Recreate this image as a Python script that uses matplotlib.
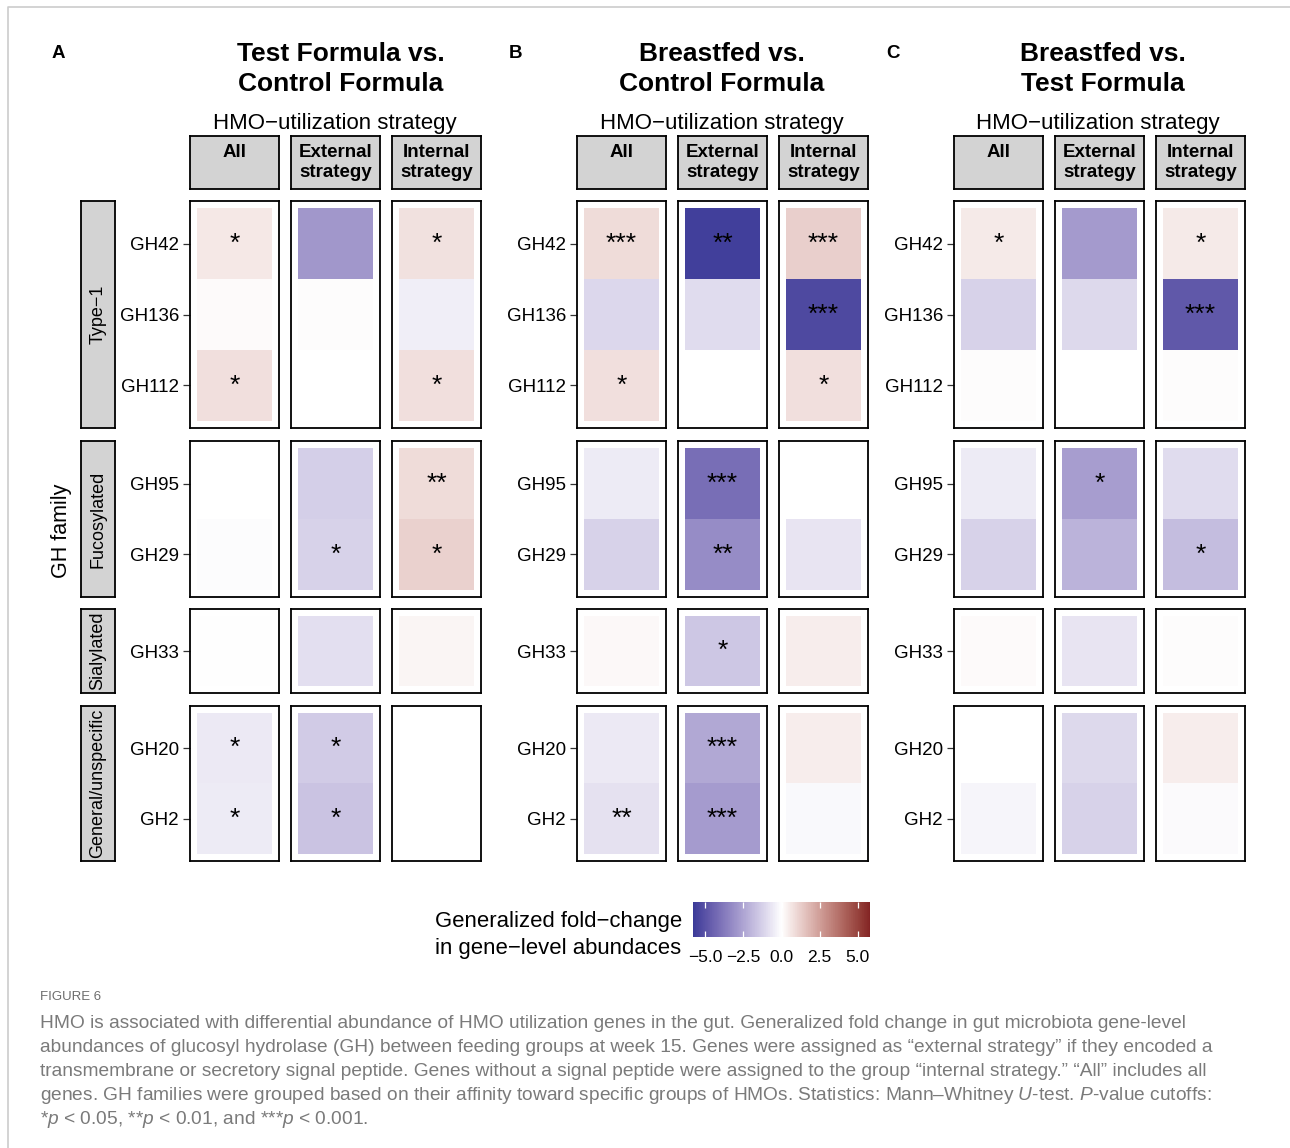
import numpy as np
import matplotlib
matplotlib.use("Agg")
import matplotlib.pyplot as plt
from matplotlib.colors import ListedColormap, Normalize, to_rgb
from matplotlib.cm import ScalarMappable
from matplotlib.lines import Line2D

plt.rcParams['font.family'] = ['Liberation Sans', 'DejaVu Sans']
plt.rcParams['mathtext.fontset'] = 'custom'
plt.rcParams['mathtext.rm'] = 'Liberation Sans'
plt.rcParams['mathtext.it'] = 'Liberation Sans:italic'

nan = np.nan

# ---- data ----
genes = ["GH42", "GH136", "GH112", "GH95", "GH29", "GH33", "GH20", "GH2"]
groups = ["Type\u22121", "Fucosylated", "Sialylated", "General/unspecific"]
group_size = [3, 2, 1, 2]
strategies = ["All", "External\nstrategy", "Internal\nstrategy"]
titles = ["Test Formula vs.\nControl Formula",
          "Breastfed vs.\nControl Formula",
          "Breastfed vs.\nTest Formula"]
letters = ["A", "B", "C"]

# generalized fold-change, columns = All, External, Internal
fc_test_control = [[0.55, -2.9, 0.75],
                   [0.1, 0.05, -0.45],
                   [0.8, nan, 0.8],
                   [nan, -1.3, 0.9],
                   [-0.08, -1.2, 1.15],
                   [0.02, -0.82, 0.27],
                   [-0.56, -1.4, nan],
                   [-0.52, -1.6, nan]]
sig_test_control = [["*", "", "*"],
                    ["", "", ""],
                    ["*", "", "*"],
                    ["", "", "**"],
                    ["", "*", "*"],
                    ["", "", ""],
                    ["*", "*", ""],
                    ["*", "*", ""]]

fc_bf_control = [[0.9, -5.6, 1.2],
                 [-1.05, -0.95, -5.3],
                 [0.78, nan, 0.8],
                 [-0.5, -4.1, nan],
                 [-1.2, -3.2, -0.7],
                 [0.18, -1.5, 0.42],
                 [-0.55, -2.36, 0.42],
                 [-0.8, -2.75, -0.15]]
sig_bf_control = [["***", "**", "***"],
                  ["", "", "***"],
                  ["*", "", "*"],
                  ["", "***", ""],
                  ["", "**", ""],
                  ["", "*", ""],
                  ["", "***", ""],
                  ["**", "***", ""]]

fc_bf_test = [[0.52, -2.8, 0.52],
              [-1.18, -1.0, -4.8],
              [0.05, nan, 0.05],
              [-0.5, -2.7, -0.95],
              [-1.18, -2.05, -1.8],
              [0.1, -0.7, 0.05],
              [nan, -1.0, 0.45],
              [-0.25, -1.2, -0.12]]
sig_bf_test = [["*", "", "*"],
               ["", "", "***"],
               ["", "", ""],
               ["", "*", ""],
               ["", "", "*"],
               ["", "", ""],
               ["", "", ""],
               ["", "", ""]]

cbar_ticks = [-5.0, -2.5, 0.0, 2.5, 5.0]
cbar_labels = ["\u22125.0", "\u22122.5", "0.0", "2.5", "5.0"]
fc_limit = 5.8

caption = [
    "HMO is associated with differential abundance of HMO utilization genes in the gut. Generalized fold change in gut microbiota gene-level",
    "abundances of glucosyl hydrolase (GH) between feeding groups at week 15. Genes were assigned as \u201cexternal strategy\u201d if they encoded a",
    "transmembrane or secretory signal peptide. Genes without a signal peptide were assigned to the group \u201cinternal strategy.\u201d \u201cAll\u201d includes all",
    "genes. GH families were grouped based on their affinity toward specific groups of HMOs. Statistics: Mann\u2013Whitney $U$-test. $P$-value cutoffs:",
    "*$p$ < 0.05, **$p$ < 0.01, and ***$p$ < 0.001.",
]

fcs = [fc_test_control, fc_bf_control, fc_bf_test]
sigs = [sig_test_control, sig_bf_control, sig_bf_test]


# ---- diverging palette interpolated in CIELAB (like ggplot gradient2) ----
M = np.array([[0.4124, 0.3576, 0.1805],
              [0.2126, 0.7152, 0.0722],
              [0.0193, 0.1192, 0.9505]])
WHITE = np.array([0.95047, 1.0, 1.08883])


def to_lab(rgb):
    c = np.asarray(rgb, float)
    c = np.where(c > 0.04045, ((c + 0.055) / 1.055) ** 2.4, c / 12.92)
    xyz = M @ c / WHITE
    f = np.where(xyz > 216 / 24389, np.cbrt(xyz), (24389 / 27 * xyz + 16) / 116)
    return np.array([116 * f[1] - 16, 500 * (f[0] - f[1]), 200 * (f[1] - f[2])])


def from_lab(lab):
    fy = (lab[0] + 16) / 116
    f = np.array([fy + lab[1] / 500, fy, fy - lab[2] / 200])
    xyz = np.where(f ** 3 > 216 / 24389, f ** 3, (116 * f - 16) / (24389 / 27)) * WHITE
    c = np.linalg.solve(M, xyz)
    c = np.where(c > 0.0031308, 1.055 * np.clip(c, 0, None) ** (1 / 2.4) - 0.055, 12.92 * c)
    return np.clip(c, 0, 1)


lab_low, lab_mid, lab_high = to_lab(to_rgb("#3A3A98")), to_lab((1, 1, 1)), to_lab(to_rgb("#832424"))
cols = []
for t in np.linspace(0, 1, 256):
    if t < 0.5:
        cols.append(from_lab(lab_low + (lab_mid - lab_low) * t / 0.5))
    else:
        cols.append(from_lab(lab_mid + (lab_high - lab_mid) * (t - 0.5) / 0.5))
cmap = ListedColormap(cols)
cmap.set_bad((1, 1, 1, 0))
norm = Normalize(-fc_limit, fc_limit)

# ---- layout (pixels) ----
W, H = 1290, 1148
fig = plt.figure(figsize=(W / 100, H / 100), dpi=100)


def px_axes(x0, y0, x1, y1):
    return fig.add_axes([x0 / W, 1 - y1 / H, (x1 - x0) / W, (y1 - y0) / H])


def fx(x):
    return x / W


def fy(y):
    return 1 - y / H


col_left = [[190, 291, 392], [577, 678, 779], [954, 1055, 1156]]
col_w = 89
row_top = [201, 441, 609, 706]
row_bot = [428, 597, 693, 861]
title_x = [341, 722, 1103]
strat_x = [335, 722, 1098]
letter_x = [58, 516, 893]

for k in range(3):
    vals = np.array(fcs[k], float)
    sg = sigs[k]
    start = 0
    for g, n in enumerate(group_size):
        rows = list(range(start, start + n))
        for s in range(3):
            x0 = col_left[k][s]
            ax = px_axes(x0, row_top[g], x0 + col_w, row_bot[g])
            ax.imshow(vals[rows, s].reshape(n, 1), cmap=cmap, norm=norm, aspect='auto',
                      interpolation='nearest', extent=(-0.5, 0.5, n - 0.5, -0.5))
            for i, r in enumerate(rows):
                if sg[r][s]:
                    ax.text(0, i, sg[r][s], ha='center', va='center', fontsize=19)
            ax.set_xlim(-0.6, 0.6)
            ax.set_ylim(n - 0.4, -0.6)
            ax.set_xticks([])
            if s == 0:
                ax.set_yticks(range(n))
                ax.set_yticklabels([genes[r] for r in rows])
                ax.tick_params(axis='y', length=5, width=0.9, color='#333333',
                               labelsize=13.5, pad=3)
            else:
                ax.set_yticks([])
            for sp in ax.spines.values():
                sp.set_linewidth(1.3)
                sp.set_color('black')
        if k == 0:
            sax = px_axes(81, row_top[g], 115, row_bot[g])
            sax.set_facecolor('#d3d3d3')
            sax.set_xticks([])
            sax.set_yticks([])
            for sp in sax.spines.values():
                sp.set_linewidth(1.3)
            sax.text(0.5, 0.5, groups[g], rotation=90, ha='center', va='center',
                     fontsize=13, transform=sax.transAxes)
        start += n

    for s in range(3):
        x0 = col_left[k][s]
        tax = px_axes(x0, 136, x0 + col_w, 189)
        tax.set_facecolor('#d3d3d3')
        tax.set_xticks([])
        tax.set_yticks([])
        for sp in tax.spines.values():
            sp.set_linewidth(1.3)
        tax.text(0.5, 0.85, strategies[s], ha='center', va='top', fontsize=13.5,
                 fontweight='bold', linespacing=1.2, transform=tax.transAxes)

    fig.text(fx(title_x[k]), fy(69), titles[k], ha='center', va='center',
             fontsize=19, fontweight='bold', linespacing=1.32)
    fig.text(fx(strat_x[k]), fy(124), "HMO\u2212utilization strategy", ha='center',
             va='center', fontsize=16)
    fig.text(fx(letter_x[k]), fy(53), letters[k], ha='center', va='center',
             fontsize=13.5, fontweight='bold')

fig.text(fx(62), fy(531), "GH family", rotation=90, ha='center', va='center', fontsize=15.5)

# ---- colour bar ----
cax = px_axes(693, 902, 870, 937)
cb = fig.colorbar(ScalarMappable(norm=norm, cmap=cmap), cax=cax, orientation='horizontal',
                  ticks=cbar_ticks)
cb.outline.set_visible(False)
cax.set_xticklabels(cbar_labels)
cax.xaxis.set_ticks_position('both')
cax.tick_params(axis='x', direction='in', color='white', length=4.5, width=0.9,
                labelsize=12.5, pad=9)
fig.text(fx(435), fy(935), "Generalized fold\u2212change\nin gene\u2212level abundaces",
         ha='left', va='center', fontsize=15.9, linespacing=1.35)

# ---- caption ----
fig.text(fx(40), fy(997), "FIGURE 6", ha='left', va='center', fontsize=9.5, color='#6d6d6d')
for i, line in enumerate(caption):
    fig.text(fx(40), fy(1024 + 24 * i), line, ha='left', va='center', fontsize=13.8,
             color='#7a7a7a')

# frame lines
fig.add_artist(Line2D([fx(8), fx(8), 1], [0, fy(7), fy(7)], color='#cccccc', lw=1.2,
                      transform=fig.transFigure))

fig.savefig("out.png", dpi=100)
